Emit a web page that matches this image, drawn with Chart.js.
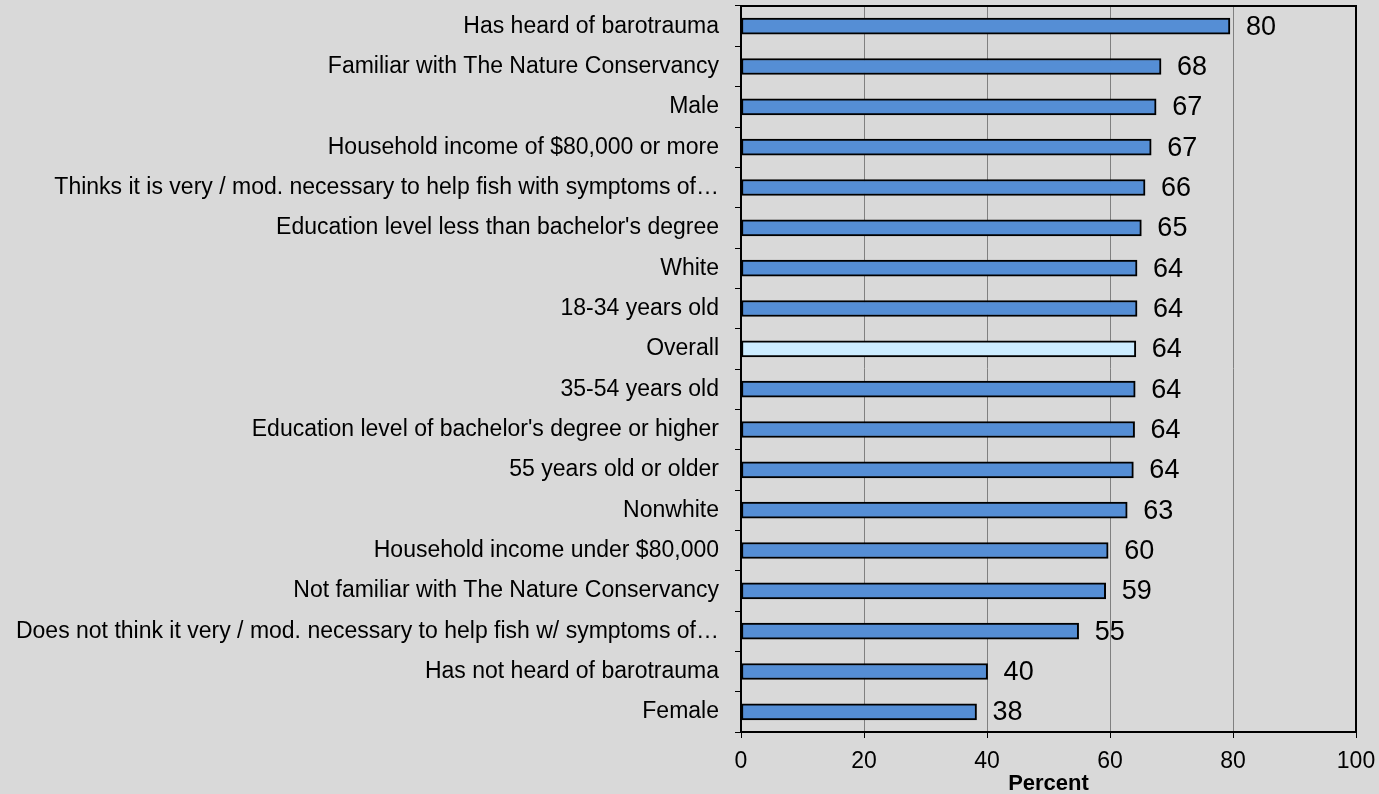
<!DOCTYPE html>
<html>
<head>
<meta charset="utf-8">
<script src="https://cdn.jsdelivr.net/npm/chart.js@4/dist/chart.umd.min.js"></script>
<style>
  html, body { margin: 0; padding: 0; background: #d9d9d9; }
  #wrap { width: 1379px; height: 794px; }
</style>
</head>
<body>
<div id="wrap"><canvas id="chart" width="1379" height="794"></canvas></div>
<script>
const categories = [
  'Has heard of barotrauma',
  'Familiar with The Nature Conservancy',
  'Male',
  'Household income of $80,000 or more',
  'Thinks it is very / mod. necessary to help fish with symptoms of\u2026',
  "Education level less than bachelor's degree",
  'White',
  '18-34 years old',
  'Overall',
  '35-54 years old',
  "Education level of bachelor's degree or higher",
  '55 years old or older',
  'Nonwhite',
  'Household income under $80,000',
  'Not familiar with The Nature Conservancy',
  'Does not think it very / mod. necessary to help fish w/ symptoms of\u2026',
  'Has not heard of barotrauma',
  'Female'
];
const values = [79.5, 68.3, 67.5, 66.7, 65.7, 65.1, 64.4, 64.4, 64.2, 64.1, 64.0, 63.8, 62.8, 59.7, 59.3, 54.9, 40.1, 38.3];
const valueLabels = ['80', '68', '67', '67', '66', '65', '64', '64', '64', '64', '64', '64', '63', '60', '59', '55', '40', '38'];
const xTicks = [0, 20, 40, 60, 80, 100];

const FONT = '"Liberation Sans", Arial, sans-serif';
const barColors = categories.map(c => c === 'Overall' ? '#ccecff' : '#558ed5');

// values written just right of each bar
const valueLabelPlugin = {
  id: 'valueLabels',
  afterDatasetsDraw(chart) {
    const ctx = chart.ctx;
    const meta = chart.getDatasetMeta(0);
    ctx.save();
    ctx.font = '27px ' + FONT;
    ctx.fillStyle = '#000';
    ctx.textBaseline = 'middle';
    ctx.textAlign = 'left';
    meta.data.forEach((bar, i) => {
      ctx.fillText(valueLabels[i], bar.x + 16, bar.y + 1);
    });
    ctx.restore();
  }
};

// black frame round the plot area
const framePlugin = {
  id: 'frame',
  afterDraw(chart) {
    const a = chart.chartArea;
    const ctx = chart.ctx;
    ctx.save();
    ctx.strokeStyle = '#000';
    ctx.lineWidth = 2;
    ctx.strokeRect(a.left, a.top, a.right - a.left, a.bottom - a.top);
    ctx.restore();
  }
};

const bgPlugin = {
  id: 'bg',
  beforeDraw(chart) {
    const ctx = chart.ctx;
    ctx.save();
    ctx.fillStyle = '#d9d9d9';
    ctx.fillRect(0, 0, chart.width, chart.height);
    ctx.restore();
  }
};

new Chart(document.getElementById('chart').getContext('2d'), {
  type: 'bar',
  data: {
    labels: categories,
    datasets: [{
      data: values,
      backgroundColor: barColors,
      borderColor: '#000',
      borderWidth: 2,
      borderSkipped: false,
      barThickness: 16
    }]
  },
  plugins: [bgPlugin, valueLabelPlugin, framePlugin],
  options: {
    indexAxis: 'y',
    responsive: false,
    animation: false,
    layout: { padding: { top: 6, right: 23, left: 0, bottom: 0 } },
    plugins: { legend: { display: false }, tooltip: { enabled: false } },
    scales: {
      x: {
        min: 0,
        max: 100,
        afterBuildTicks(scale) { scale.ticks = xTicks.map(v => ({ value: v })); },
        afterFit(scale) {
          scale.height = 62;
          scale.paddingLeft = 0;
          scale.paddingRight = 0;
        },
        grid: { color: '#808080', lineWidth: 1, tickColor: '#000', tickLength: 6 },
        border: { color: '#000', width: 2 },
        ticks: {
          color: '#000',
          font: { family: FONT, size: 23 },
          padding: 10
        },
        title: {
          display: true,
          text: 'Percent',
          color: '#000',
          font: { family: FONT, size: 22, weight: 'bold' },
          padding: { top: -10, bottom: -3 }
        }
      },
      y: {
        afterFit(scale) {
          scale.width = 741;
          scale.paddingTop = 0;
          scale.paddingBottom = 0;
        },
        grid: { drawOnChartArea: false, offset: true, tickColor: '#000', tickLength: 6 },
        border: { color: '#000', width: 2 },
        ticks: {
          color: '#000',
          autoSkip: false,
          font: { family: FONT, size: 23 },
          padding: 16
        }
      }
    }
  }
});
</script>
</body>
</html>
